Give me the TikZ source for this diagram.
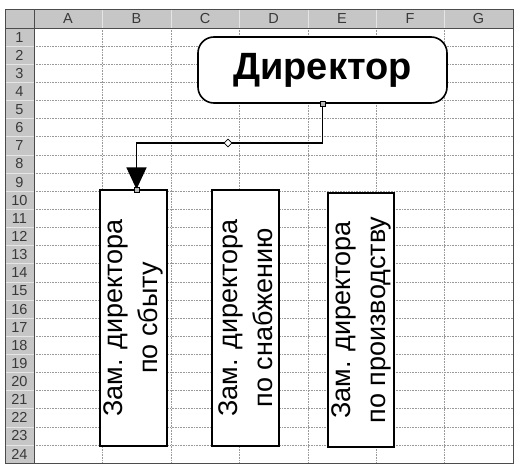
\documentclass[tikz,border=0pt]{standalone}
\usepackage{fontspec}
\setmainfont{Liberation Sans}
\usetikzlibrary{arrows.meta,shapes.geometric}
\begin{document}
\begin{tikzpicture}[x=1pt,y=-1pt,
  gridline/.style={gray!80, densely dotted, line width=0.6pt},
  hdrsep/.style={gray!20, line width=0.6pt},
  hdr/.style={font=\fontsize{14.5}{14.5}\selectfont, text=gray!45!black, inner sep=0pt},
  dirbox/.style={draw, line width=1.6pt, rounded corners=16pt, fill=white,
    minimum width=249pt, minimum height=66pt, inner sep=0pt,
    font=\bfseries\fontsize{38}{38}\selectfont},
  subbox/.style={draw, line width=1.4pt, fill=white, minimum width=67pt,
    minimum height=256pt, inner sep=0pt},
  subtext/.style={rotate=90, align=center, inner sep=0pt,
    font=\fontsize{27}{35}\selectfont},
  conn/.style={line width=1.7pt, -{Triangle[width=20pt,length=22pt]}},
  handle/.style={draw, line width=0.6pt, fill=gray!55, minimum size=5pt, inner sep=0pt},
  diamondh/.style={diamond, draw, line width=0.6pt, fill=white, minimum size=8pt, inner sep=0pt}
]
\useasboundingbox (0,0) rectangle (517,466);
\fill[white] (0,0) rectangle (517,466);
% header areas
\fill[gray!45] (5,9) rectangle (513,28);
\fill[gray!45] (5,9) rectangle (34,463);
% grid lines
\foreach \i in {1,...,23} \draw[gridline] (34,{28+18.13*\i}) -- (513,{28+18.13*\i});
\foreach \x in {102,171,239,308,376,444} \draw[gridline] (\x,28) -- (\x,463);
% header separators
\foreach \i in {1,...,23} \draw[hdrsep] (5,{28+18.13*\i}) -- (34,{28+18.13*\i});
\foreach \x in {102,171,239,308,376,444} \draw[hdrsep] (\x,9) -- (\x,28);
\draw[gray!60!black, line width=0.6pt] (5,28) -- (513,28);
\draw[gray!60!black, line width=0.6pt] (34,9) -- (34,463);
% header labels
\foreach \l/\x in {A/68,B/136.5,C/205,D/273.5,E/342,F/410,G/478.5}
  \node[hdr] (col\l) at (\x,18.5) {\l};
\foreach \i in {1,...,24}
  \node[hdr] (row\i) at (19.5,{28+18.13*(\i-0.5)}) {\i};
% outer border
\draw[gray!60!black, line width=0.8pt] (5,9) rectangle (513,463);

% director
\node[dirbox] (dir) at (322.5,70) {Директор};
% subordinate boxes
\node[subbox] (b1) at (133.5,318) {};
\node[subbox] (b2) at (245.5,318) {};
\node[subbox, minimum width=66pt, minimum height=254pt] (b3) at (361,320) {};
\node[subtext] (t1) at (b1.center) {Зам. директора\\по сбыту};
\node[subtext] (t2) at (b2.center) {Зам. директора\\по снабжению};
\node[subtext] (t3) at (b3.center) {Зам. директора\\по производству};

% connector
\coordinate (elbow) at (228,143);
\draw[conn] (dir.south) |- (elbow) -| ([xshift=3pt]b1.north);
\node[handle] (h1) at (dir.south) {};
\node[handle] (h2) at ([xshift=3pt]b1.north) {};
\node[diamondh] (hd) at (elbow) {};
\end{tikzpicture}
\end{document}
